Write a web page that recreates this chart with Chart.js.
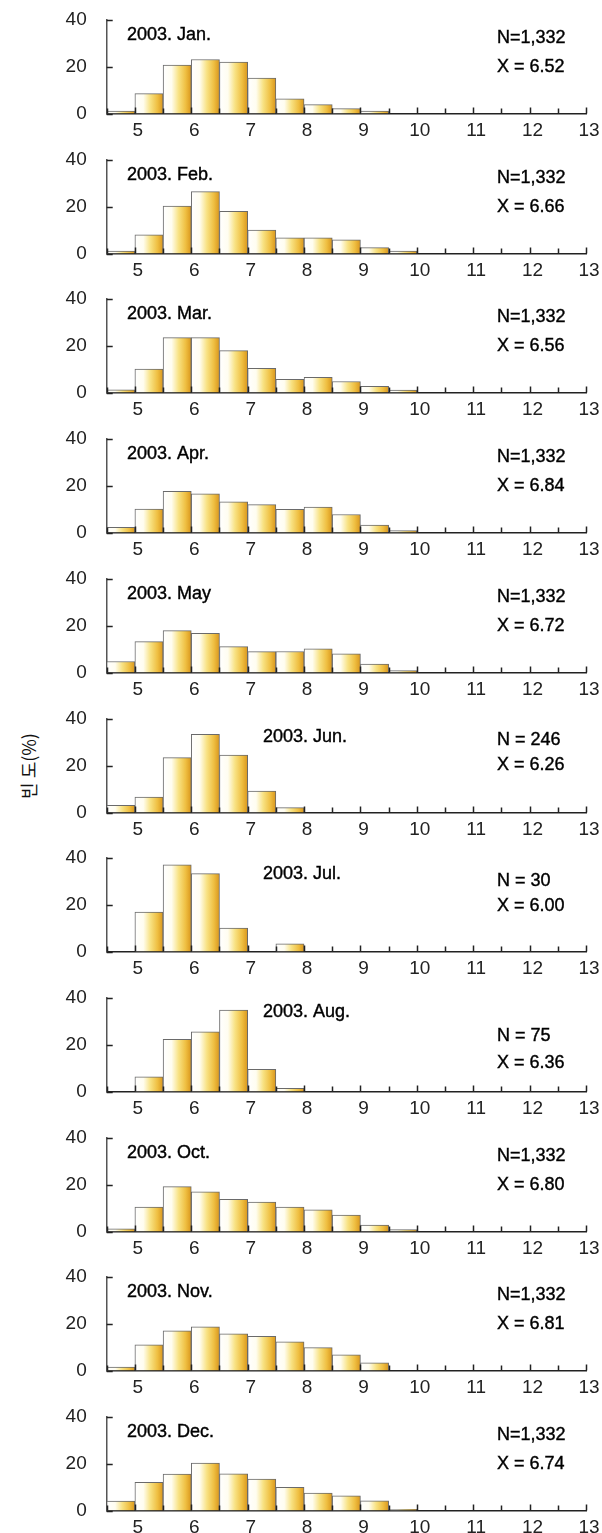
<!DOCTYPE html>
<html>
<head>
<meta charset="utf-8">
<script src="https://cdn.jsdelivr.net/npm/chart.js@4.4.1/dist/chart.umd.min.js"></script>
<style>
  html, body { margin: 0; padding: 0; background: #fff; }
  #wrap { position: relative; width: 602px; height: 1533px; overflow: hidden; }
  .panel { position: absolute; left: 0; width: 602px; height: 140px; }
  #ylabel {
    position: absolute; left: 28px; top: 766px;
    transform: translate(-50%, -50%) rotate(-90deg);
    font: 18px "Noto Sans CJK KR", sans-serif; color: #111; white-space: nowrap;
  }
</style>
</head>
<body>
<div id="wrap">
  <div id="ylabel">빈 도(%)</div>
</div>
<script>
// bin centres (0.5 wide bins from 4.5 to 13)
const bins = [4.75, 5.25, 5.75, 6.25, 6.75, 7.25, 7.75, 8.25, 8.75, 9.25, 9.75, 10.25, 10.75, 11.25, 11.75, 12.25, 12.75];

// frequency (%) per bin, one array per month
const jan = [1, 8.5, 20.7, 23.1, 22, 15.1, 6.3, 3.8, 2.1, 1, 0, 0, 0, 0, 0, 0, 0];
const feb = [1, 8, 20.3, 26.5, 18, 10, 6.7, 6.7, 5.8, 2.5, 1, 0, 0, 0, 0, 0, 0];
const mar = [1.1, 10, 23.5, 23.5, 17.9, 10.3, 5.6, 6.5, 4.7, 2.6, 1, 0, 0, 0, 0, 0, 0];
const apr = [2.2, 10, 17.6, 16.5, 13.1, 11.9, 9.9, 10.9, 7.7, 3.2, 0.8, 0, 0, 0, 0, 0, 0];
const may = [4.7, 13.2, 17.9, 16.8, 11.1, 8.9, 9, 10.1, 8, 3.6, 0.8, 0, 0, 0, 0, 0, 0];
const jun = [3.1, 6.6, 23.5, 33.4, 24.6, 9.2, 2.1, 0, 0, 0, 0, 0, 0, 0, 0, 0, 0];
const jul = [0, 16.9, 37.1, 33.3, 10, 0, 3.3, 0, 0, 0, 0, 0, 0, 0, 0, 0, 0];
const aug = [0, 6.3, 22.3, 25.5, 34.8, 9.5, 1.4, 0, 0, 0, 0, 0, 0, 0, 0, 0, 0];
const oct = [1.1, 10.4, 19.2, 17, 13.8, 12.6, 10.5, 9.3, 7, 2.7, 0.8, 0, 0, 0, 0, 0, 0];
const nov = [1.5, 11, 17, 18.7, 15.7, 14.6, 12.3, 9.8, 6.7, 3.3, 0, 0, 0, 0, 0, 0, 0];
const dec = [4, 12.1, 15.6, 20.3, 15.7, 13.4, 9.9, 7.4, 6.3, 4.1, 0.5, 0, 0, 0, 0, 0, 0];

const titles = ['2003. Jan.', '2003. Feb.', '2003. Mar.', '2003. Apr.', '2003. May', '2003. Jun.',
                '2003. Jul.', '2003. Aug.', '2003. Oct.', '2003. Nov.', '2003. Dec.'];
const nLabels = ['N=1,332', 'N=1,332', 'N=1,332', 'N=1,332', 'N=1,332', 'N = 246',
                 'N = 30', 'N = 75', 'N=1,332', 'N=1,332', 'N=1,332'];
const meanLabels = ['X = 6.52', 'X = 6.66', 'X = 6.56', 'X = 6.84', 'X = 6.72', 'X = 6.26',
                    'X = 6.00', 'X = 6.36', 'X = 6.80', 'X = 6.81', 'X = 6.74'];
const yTicks = [0, 20, 40];

const series = [jan, feb, mar, apr, may, jun, jul, aug, oct, nov, dec];

// text placement per panel (layout only)
const titleX = [127, 127, 127, 127, 127, 263, 263, 263, 127, 127, 127];
const titleY = [35, 35, 35, 35, 35, 38, 36, 34, 35, 35, 35];
const nY = [38, 38, 38, 38, 38, 41, 43, 58, 38, 38, 38];
const xY = [67, 67, 67, 67, 67, 66, 68, 85, 67, 67, 67];

Chart.defaults.font.family = "'Liberation Sans', Arial, sans-serif";
Chart.defaults.color = '#222';

function barFill(ctx) {
    const chart = ctx.chart;
    if (!chart.chartArea || !ctx.raw) return '#f0c850';
    const xs = chart.scales.x;
    const l = xs.getPixelForValue(ctx.raw.x - 0.25);
    const r = xs.getPixelForValue(ctx.raw.x + 0.25);
    const g = chart.ctx.createLinearGradient(l, 0, r, 0);
    g.addColorStop(0, '#ffffff');
    g.addColorStop(0.3, '#fffdf0');
    g.addColorStop(0.55, '#f8e283');
    g.addColorStop(0.8, '#efbf42');
    g.addColorStop(1, '#d9961c');
    return g;
}

const decorPlugin = {
    id: 'decor',
    afterDatasetsDraw(chart, args, opts) {
        const c = chart.ctx;
        const xs = chart.scales.x, ys = chart.scales.y;
        const left = chart.chartArea.left, bottom = chart.chartArea.bottom;
        c.save();
        c.strokeStyle = '#222';
        c.lineWidth = 1.5;
        c.beginPath();
        yTicks.forEach(v => {
            const y = Math.round(ys.getPixelForValue(v)) + 0.5;
            c.moveTo(left, y);
            c.lineTo(left + 6, y);
        });
        xs.ticks.forEach(t => {
            const x = Math.round(xs.getPixelForValue(t.value)) + 0.5;
            c.moveTo(x, bottom);
            c.lineTo(x, bottom - (t.value % 1 === 0 ? 6 : 5));
        });
        c.stroke();

        c.fillStyle = '#000';
        c.strokeStyle = '#000';
        c.lineWidth = 0.4;
        c.textBaseline = 'middle';
        c.textAlign = 'left';
        c.font = "18px 'Liberation Sans', Arial, sans-serif";
        [[opts.title, opts.titleX, opts.titleY], [opts.n, 497, opts.nY], [opts.mean, 497, opts.xY]]
            .forEach(([t, x, y]) => { c.fillText(t, x, y); c.strokeText(t, x, y); });
        c.restore();
    }
};

const wrap = document.getElementById('wrap');

series.forEach((vals, i) => {
    const div = document.createElement('div');
    div.className = 'panel';
    div.style.top = Math.round(i * 139.7) + 'px';
    const canvas = document.createElement('canvas');
    canvas.width = 602;
    canvas.height = 140;
    div.appendChild(canvas);
    wrap.appendChild(div);

    new Chart(canvas, {
        type: 'bar',
        data: {
            datasets: [{
                data: bins.map((b, k) => ({ x: b, y: vals[k] })),
                backgroundColor: barFill,
                borderColor: '#6a6a6a',
                borderWidth: 1,
                barPercentage: 1,
                categoryPercentage: 1
            }]
        },
        options: {
            responsive: false,
            animation: false,
            devicePixelRatio: 1,
            layout: { autoPadding: false, padding: { top: 20, right: 16, bottom: 0, left: 0 } },
            plugins: {
                legend: { display: false },
                title: { display: false },
                tooltip: { enabled: false },
                decor: {
                    title: titles[i], titleX: titleX[i], titleY: titleY[i],
                    n: nLabels[i], mean: meanLabels[i], nY: nY[i], xY: xY[i]
                }
            },
            scales: {
                x: {
                    type: 'linear',
                    min: 4.5,
                    max: 13,
                    offset: false,
                    grid: { display: false, drawTicks: false },
                    border: { display: true, color: '#222', width: 1.5 },
                    ticks: {
                        stepSize: 0.5,
                        autoSkip: false,
                        maxRotation: 0,
                        padding: 6,
                        labelOffset: 3,
                        font: { size: 19 },
                        color: '#222',
                        callback: v => (v % 1 === 0 && v >= 5) ? String(v) : ''
                    },
                    afterFit: s => {
                        s.height = 26.5;
                        s.paddingLeft = 0;
                        s.paddingRight = 0;
                    }
                },
                y: {
                    min: 0,
                    max: 40,
                    grid: { display: false, drawTicks: false },
                    border: { display: true, color: '#555', width: 1.5, dash: [2, 1] },
                    ticks: {
                        stepSize: 20,
                        padding: 20,
                        font: { size: 19 },
                        color: '#222'
                    },
                    // tick padding would otherwise push the plot box in
                    afterFit: s => {
                        s.width = 106.7;
                        s.paddingTop = 0;
                        s.paddingBottom = 0;
                    }
                }
            }
        },
        plugins: [decorPlugin]
    });
});
</script>
</body>
</html>
